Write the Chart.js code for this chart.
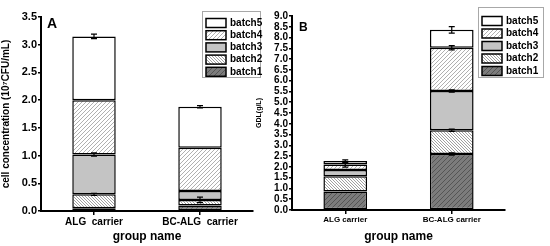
<!DOCTYPE html>
<html>
<head>
<meta charset="utf-8">
<script src="https://cdn.jsdelivr.net/npm/chart.js@4/dist/chart.umd.min.js"></script>
<style>
  html, body { margin: 0; padding: 0; background: #fff; }
  #page { position: relative; width: 550px; height: 246px; overflow: hidden; }
  .panel { position: absolute; top: 0; height: 246px; }
  #panelA { left: 0; width: 270px; }
  #panelB { left: 255px; width: 295px; }
</style>
</head>
<body>
<div id="page">
  <div class="panel" id="panelA"><canvas id="chartA"></canvas></div>
  <div class="panel" id="panelB"><canvas id="chartB"></canvas></div>
</div>
<script>
// ---- data ----
const batchNames = ['batch1', 'batch2', 'batch3', 'batch4', 'batch5'];

// panel A: cell concentration (10^7 CFU/mL)
const groupsA = ['ALG  carrier', 'BC-ALG  carrier'];
const cellBatch1 = [0.05, 0.10];
const cellBatch2 = [0.25, 0.10];
const cellBatch3 = [0.72, 0.16];
const cellBatch4 = [0.98, 0.78];
const cellBatch5 = [1.15, 0.74];
const cellErr1 = [0, 0];
const cellErr2 = [0.02, 0.05];
const cellErr3 = [0.03, 0];
const cellErr4 = [0, 0];
const cellErr5 = [0.04, 0.02];
const cellTicks = { min: 0, max: 3.5, step: 0.5 };

// panel B: GDL (g/L)
const groupsB = ['ALG carrier', 'BC-ALG carrier'];
const gdlBatch1 = [0.86, 2.60];
const gdlBatch2 = [0.70, 1.10];
const gdlBatch3 = [0.30, 1.82];
const gdlBatch4 = [0.25, 2.01];
const gdlBatch5 = [0.16, 0.83];
const gdlErr1 = [0, 0.05];
const gdlErr2 = [0, 0.05];
const gdlErr3 = [0, 0.05];
const gdlErr4 = [0.12, 0.1];
const gdlErr5 = [0.06, 0.15];
const gdlTicks = { min: 0, max: 9, step: 0.5 };

Chart.defaults.font.family = '"Liberation Sans", Arial, sans-serif';
Chart.defaults.font.weight = 'bold';
Chart.defaults.color = '#000';

// 斜线填充
function makeHatch(bg, fg, dir, gap) {
    const c = document.createElement('canvas');
    c.width = gap;
    c.height = gap;
    const g = c.getContext('2d');
    g.fillStyle = bg;
    g.fillRect(0, 0, gap, gap);
    if (fg) {
        g.strokeStyle = fg;
        g.lineWidth = 1;
        g.beginPath();
        if (dir === '/') {
            g.moveTo(0, gap); g.lineTo(gap, 0);
            g.moveTo(-1, 1); g.lineTo(1, -1);
            g.moveTo(gap - 1, gap + 1); g.lineTo(gap + 1, gap - 1);
        } else {
            g.moveTo(0, 0); g.lineTo(gap, gap);
            g.moveTo(gap - 1, -1); g.lineTo(gap + 1, 1);
            g.moveTo(-1, gap - 1); g.lineTo(1, gap + 1);
        }
        g.stroke();
    }
    return g.createPattern(c, 'repeat');
}

const fills = [
    makeHatch('#7c7c7c', '#555555', '/', 5),
    makeHatch('#ffffff', '#a0a0a0', '\\', 3),
    makeHatch('#c4c4c4', null, '/', 4),
    makeHatch('#ffffff', '#b0b0b0', '/', 4),
    makeHatch('#ffffff', null, '/', 4),
];

// 误差线插件
const errorBarPlugin = {
    id: 'errorBars',
    afterDatasetsDraw(chart, args, opts) {
        const ctx = chart.ctx;
        const yScale = chart.scales.y;
        ctx.save();
        ctx.strokeStyle = '#000';
        ctx.lineWidth = 1.2;
        chart.data.datasets.forEach((ds, i) => {
            const meta = chart.getDatasetMeta(i);
            const errs = opts.errors[i];
            meta.data.forEach((bar, j) => {
                const e = errs[j];
                if (!e) return;
                let cum = 0;
                for (let k = 0; k <= i; k++) cum += chart.data.datasets[k].data[j];
                const yt = yScale.getPixelForValue(cum + e);
                const yb = yScale.getPixelForValue(cum - e);
                const x = bar.x;
                ctx.beginPath();
                ctx.moveTo(x, yt); ctx.lineTo(x, yb);
                ctx.moveTo(x - 3, yt); ctx.lineTo(x + 3, yt);
                ctx.moveTo(x - 3, yb); ctx.lineTo(x + 3, yb);
                ctx.stroke();
            });
        });
        ctx.restore();
    },
};

// 图例 + 面板字母
const boxLegendPlugin = {
    id: 'boxLegend',
    afterDraw(chart, args, opts) {
        const ctx = chart.ctx;
        ctx.save();
        ctx.fillStyle = '#fff';
        ctx.fillRect(opts.x, opts.y, opts.w, opts.h);
        ctx.strokeStyle = '#a8a8a8';
        ctx.lineWidth = 1;
        ctx.strokeRect(opts.x + 0.5, opts.y + 0.5, opts.w, opts.h);
        const sets = chart.data.datasets.slice().reverse();
        ctx.font = 'bold 10px "Liberation Sans", Arial, sans-serif';
        ctx.textBaseline = 'middle';
        sets.forEach((ds, i) => {
            const cy = opts.firstRow + i * opts.rowGap;
            ctx.fillStyle = ds.backgroundColor;
            ctx.fillRect(opts.x + 4, cy - 4.5, 20, 9);
            ctx.strokeStyle = '#000';
            ctx.lineWidth = 1.5;
            ctx.strokeRect(opts.x + 4, cy - 4.5, 20, 9);
            ctx.fillStyle = '#000';
            ctx.fillText(ds.label, opts.x + 28, cy);
        });
        ctx.font = 'bold ' + opts.letterSize + 'px "Liberation Sans", Arial, sans-serif';
        ctx.textBaseline = 'alphabetic';
        ctx.fillText(opts.letter, opts.letterX, opts.letterY);
        ctx.restore();
    },
};

function buildChart(canvasId, labels, series, errors, ticks, cfg) {
    const ctx = document.getElementById(canvasId);
    return new Chart(ctx, {
        type: 'bar',
        data: {
            labels: labels,
            datasets: series.map((d, i) => ({
                label: batchNames[i],
                data: d,
                backgroundColor: fills[i],
                borderColor: '#000',
                borderWidth: 1.5,
                borderSkipped: false,
                barPercentage: 0.41,
                categoryPercentage: 1,
            })),
        },
        options: {
            responsive: true,
            maintainAspectRatio: false,
            animation: false,
            layout: { padding: { top: cfg.top, right: cfg.right, left: 0, bottom: 0 } },
            plugins: {
                legend: { display: false },
                tooltip: { enabled: false },
                errorBars: { errors: errors },
                boxLegend: cfg.legend,
            },
            scales: {
                x: {
                    stacked: true,
                    grid: { drawOnChartArea: false, offset: false, tickLength: 4, color: '#000', lineWidth: 1.5 },
                    border: { color: '#000', width: 2 },
                    ticks: { font: { size: cfg.xTickSize, weight: 'bold' }, padding: 1, maxRotation: 0 },
                    title: { display: true, text: 'group name', font: { size: 12, weight: 'bold' }, padding: { top: 0, bottom: 2 } },
                    afterFit: (s) => { s.height = cfg.xHeight; },
                },
                y: {
                    stacked: true,
                    min: ticks.min,
                    max: ticks.max,
                    grid: { drawOnChartArea: false, tickLength: 3, color: '#000', lineWidth: 1.5 },
                    border: { color: '#000', width: 2 },
                    ticks: {
                        stepSize: ticks.step,
                        autoSkip: false,
                        font: { size: cfg.yTickSize, weight: 'bold' },
                        padding: 1,
                        callback: (v) => v.toFixed(1),
                    },
                    title: { display: true, text: cfg.yTitle, font: { size: cfg.yTitleSize, weight: 'bold' }, padding: { top: 0, bottom: cfg.yTitlePad } },
                    afterFit: (s) => { s.width = cfg.yWidth; },
                },
            },
        },
        plugins: [errorBarPlugin, boxLegendPlugin],
    });
}

buildChart('chartA', groupsA,
    [cellBatch1, cellBatch2, cellBatch3, cellBatch4, cellBatch5],
    [cellErr1, cellErr2, cellErr3, cellErr4, cellErr5],
    cellTicks,
    {
        top: 17, right: 17, xHeight: 35, yWidth: 41,
        xTickSize: 10, yTickSize: 11,
        yTitle: 'cell concentration (10\u2077CFU/mL)', yTitleSize: 10, yTitlePad: 0,
        legend: { x: 202, y: 11, w: 58, h: 66, firstRow: 23, rowGap: 12.2,
                  letter: 'A', letterX: 47, letterY: 28, letterSize: 14 },
    });

buildChart('chartB', groupsB,
    [gdlBatch1, gdlBatch2, gdlBatch3, gdlBatch4, gdlBatch5],
    [gdlErr1, gdlErr2, gdlErr3, gdlErr4, gdlErr5],
    gdlTicks,
    {
        top: 16, right: 45, xHeight: 36, yWidth: 37,
        xTickSize: 8, yTickSize: 10,
        yTitle: 'GDL(g/L)', yTitleSize: 7, yTitlePad: 0,
        legend: { x: 223, y: 7, w: 65, h: 70, firstRow: 21, rowGap: 12.5,
                  letter: 'B', letterX: 44, letterY: 31, letterSize: 12 },
    });
</script>
</body>
</html>
